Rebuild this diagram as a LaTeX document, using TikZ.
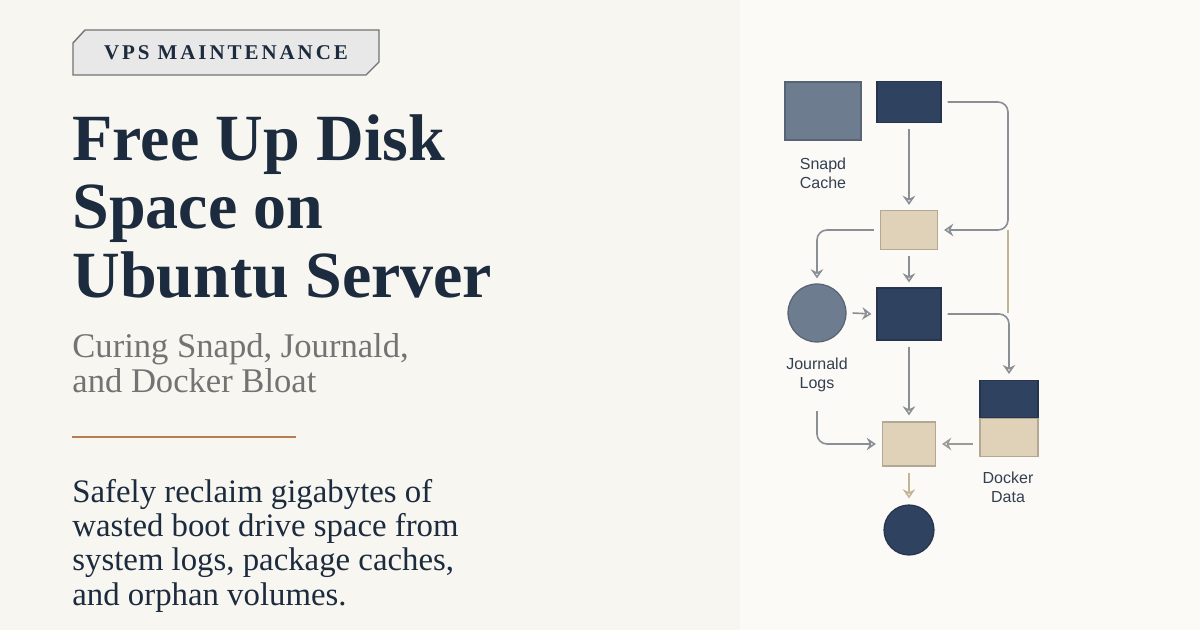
\documentclass[tikz,border=0pt]{standalone}
\usepackage{fontspec}
\setmainfont{Liberation Serif}
\setsansfont{Liberation Sans}
\usetikzlibrary{arrows.meta,positioning,calc}
\definecolor{paper}{HTML}{F8F6F0}
\definecolor{paperR}{HTML}{FBFAF6}
\definecolor{ink}{HTML}{1C2B3E}
\definecolor{slate}{HTML}{6E7C90}
\definecolor{navy}{HTML}{2F4260}
\definecolor{sand}{HTML}{E0D2B8}
\definecolor{wire}{HTML}{8A8F96}
\definecolor{wiretan}{HTML}{C2B497}
\definecolor{rust}{HTML}{B87C55}
\tikzset{>={Stealth[width=2.2mm,length=1.6mm,open]}}
\tikzset{
  blk/.style={draw=#1!80!black, fill=#1, line width=0.6pt, inner sep=0pt},
  flow/.style={->, draw=wire, line width=0.8pt, rounded corners=5pt},
  flowtan/.style={->, draw=wiretan, line width=0.8pt},
  lbl/.style={font=\sffamily\fontsize{8}{9.5}\selectfont, align=center, text=ink!90},
  ttl/.style={anchor=base west, inner sep=0pt, text=ink, font=\bfseries\fontsize{33}{33}\selectfont},
  sub/.style={anchor=base west, inner sep=0pt, text=black!55, font=\fontsize{17.3}{17.3}\selectfont},
  body/.style={anchor=base west, inner sep=0pt, text=ink, font=\fontsize{16.4}{16.4}\selectfont}
}
\begin{document}
\begin{tikzpicture}[x=0.5pt,y=-0.5pt]
\fill[paper] (0,0) rectangle (1200,630);
\fill[paperR] (740,0) rectangle (1200,630);
\useasboundingbox (0,0) rectangle (1200,630);
% heading column
\filldraw[fill=black!9, draw=black!55, line width=0.7pt]
  (85,30) -- (379,30) -- (379,62) -- (366,75) -- (73,75) -- (73,43) -- cycle;
\node (tag) at (226,53) {\bfseries\color{ink}\fontsize{10.5}{10.5}\selectfont\addfontfeature{LetterSpace=14}VPS\hspace{4pt}MAINTENANCE};
\node (t1) [ttl] at (72,161) {Free Up Disk};
\node (t2) [ttl] at (72,229) {Space on};
\node (t3) [ttl] at (72,298) {Ubuntu Server};
\node (s1) [sub] at (72,358) {Curing Snapd, Journald,};
\node (s2) [sub] at (72,393) {and Docker Bloat};
\draw[rust, line width=1.2pt] (72,437) -- (296,437);
\node (b1) [body] at (72,503) {Safely reclaim gigabytes of};
\node (b2) [body] at (72,537) {wasted boot drive space from};
\node (b3) [body] at (72,571) {system logs, package caches,};
\node (b4) [body] at (72,605) {and orphan volumes.};
% diagram
\node (snapd) [blk=slate, minimum width=38pt, minimum height=29pt] at (823,111) {};
\node (top) [blk=navy, minimum width=32pt, minimum height=20.5pt] at (909,102) {};
\node (snaplbl) [lbl] at (823,173) {Snapd\\Cache};
\node (mix1) [blk=sand, minimum width=28.5pt, minimum height=19.5pt] at (909,230) {};
\node (jrnl) [blk=slate, circle, minimum size=29pt] at (817,313) {};
\node (core) [blk=navy, minimum width=32pt, minimum height=26pt] at (909,314) {};
\node (jrnllbl) [lbl] at (817,375) {Journald\\Logs};
\node (dockU) [blk=navy, minimum width=29pt, minimum height=18.5pt, anchor=north] at (1009,380) {};
\node (dockL) [blk=sand, minimum width=29pt, minimum height=19pt, anchor=north] at (dockU.south) {};
\node (docklbl) [lbl] at (1008,487) {Docker\\Data};
\node (mix2) [blk=sand, minimum width=26.5pt, minimum height=22pt] at (909,444) {};
\node (out) [blk=navy, circle, minimum size=25pt] at (909,530) {};
\coordinate (jn) at (1008,230);
\coordinate (jc) at (1008,313);
% connectors
\draw[flow] ([yshift=-3pt]top.south) -- ([yshift=2.5pt]mix1.north);
\draw[flow] ([xshift=3pt]top.east) -| (jn) -- ([xshift=3pt]mix1.east);
\draw[flow] ([xshift=-3pt]mix1.west) -| ([yshift=2.5pt]jrnl.north);
\draw[flow] ([yshift=-3pt]mix1.south) -- ([yshift=2.5pt]core.north);
\draw[flow] ([xshift=3pt]jrnl.east) -- ([xshift=-2.5pt]core.west);
\draw[flow] ([xshift=3pt]core.east) -| ([yshift=3pt]dockU.north);
\draw[wiretan, line width=0.8pt] (jn) -- (jc);
\draw[flow] ([yshift=-3pt]core.south) -- ([yshift=3pt]mix2.north);
\draw[flow] ([yshift=-6pt]jrnllbl.south) |- ([xshift=-3pt]mix2.west);
\draw[flow, draw=wire!70!wiretan] ([xshift=-3pt]dockL.west|-mix2) -- ([xshift=3pt]mix2.east);
\draw[flowtan] ([yshift=-3pt]mix2.south) -- ([yshift=3pt]out.north);
\end{tikzpicture}
\end{document}
